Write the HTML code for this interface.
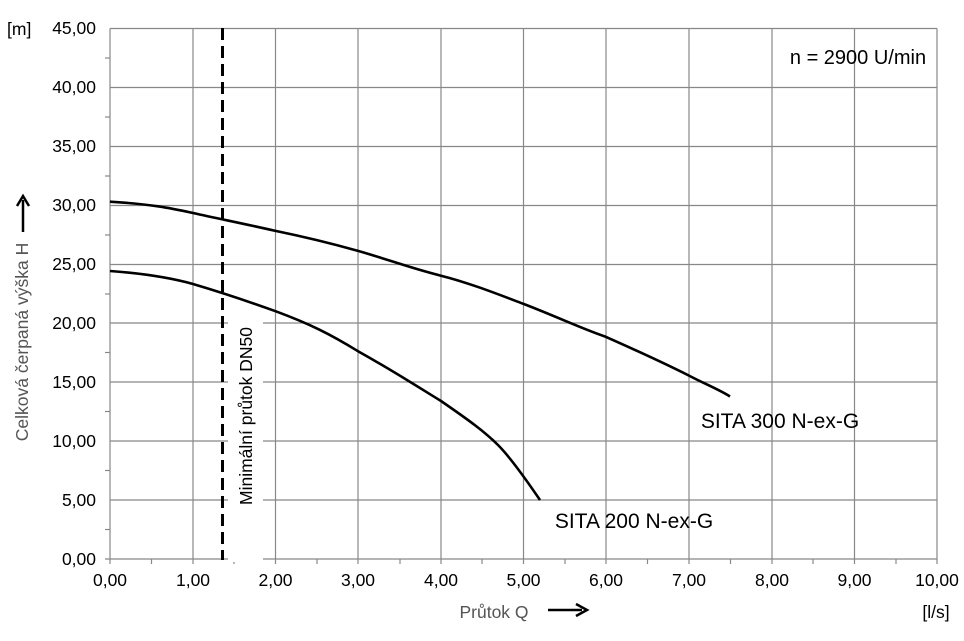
<!DOCTYPE html>
<html><head><meta charset="utf-8"><style>
html,body{margin:0;padding:0;background:#fff}
svg{display:block}
text{font-family:"Liberation Sans",sans-serif}
</style></head><body>
<svg width="964" height="641" viewBox="0 0 964 641" xmlns="http://www.w3.org/2000/svg">
<g stroke="#888" stroke-width="1.2" fill="none">
<line x1="110" y1="28.5" x2="937" y2="28.5"/>
<line x1="110" y1="87.5" x2="937" y2="87.5"/>
<line x1="110" y1="146.5" x2="937" y2="146.5"/>
<line x1="110" y1="205.5" x2="937" y2="205.5"/>
<line x1="110" y1="264.5" x2="937" y2="264.5"/>
<line x1="110" y1="323" x2="937" y2="323"/>
<line x1="110" y1="382" x2="937" y2="382"/>
<line x1="110" y1="441" x2="937" y2="441"/>
<line x1="110" y1="500" x2="937" y2="500"/>
<line x1="105" y1="559" x2="937" y2="559"/>
<line x1="110" y1="28.5" x2="110" y2="564"/>
<line x1="193" y1="28.5" x2="193" y2="564"/>
<line x1="275.5" y1="28.5" x2="275.5" y2="564"/>
<line x1="358" y1="28.5" x2="358" y2="564"/>
<line x1="441" y1="28.5" x2="441" y2="564"/>
<line x1="523.5" y1="28.5" x2="523.5" y2="564"/>
<line x1="606" y1="28.5" x2="606" y2="564"/>
<line x1="689" y1="28.5" x2="689" y2="564"/>
<line x1="772" y1="28.5" x2="772" y2="564"/>
<line x1="854.5" y1="28.5" x2="854.5" y2="564"/>
<line x1="937" y1="28.5" x2="937" y2="564"/>
<line x1="105" y1="58" x2="110" y2="58"/><line x1="105" y1="117" x2="110" y2="117"/>
<line x1="105" y1="176" x2="110" y2="176"/><line x1="105" y1="235" x2="110" y2="235"/>
<line x1="105" y1="294" x2="110" y2="294"/><line x1="105" y1="352.5" x2="110" y2="352.5"/>
<line x1="105" y1="411.5" x2="110" y2="411.5"/><line x1="105" y1="470.5" x2="110" y2="470.5"/>
<line x1="105" y1="529.5" x2="110" y2="529.5"/>
<line x1="151.5" y1="559" x2="151.5" y2="564"/><line x1="234" y1="559" x2="234" y2="564"/>
<line x1="317" y1="559" x2="317" y2="564"/><line x1="400" y1="559" x2="400" y2="564"/>
<line x1="482" y1="559" x2="482" y2="564"/><line x1="565" y1="559" x2="565" y2="564"/>
<line x1="647.5" y1="559" x2="647.5" y2="564"/><line x1="730.5" y1="559" x2="730.5" y2="564"/>
<line x1="813" y1="559" x2="813" y2="564"/><line x1="896" y1="559" x2="896" y2="564"/>
</g>
<rect x="228" y="318" width="35" height="244" fill="#fff"/>
<line x1="222.5" y1="28" x2="222.5" y2="560" stroke="#000" stroke-width="3" stroke-dasharray="12,6"/>
<path d="M110,201.7 C150,204 170,208 193,213 C220,219 250,225 275.5,230.9 C310,238 330,243 358,250.9 C390,260 410,268 441,275.7 C470,283 500,295 523.5,303.9 C560,318 580,328 606,336.9 C640,352 670,366 689,375.6 C705,384 720,390 730,396.5" stroke="#000" stroke-width="2.6" fill="none"/>
<path d="M110,271 C150,274 175,279 193,284 C220,292 250,302 275.5,311.2 C310,324 330,334 358,351.2 C390,369 415,385 441,401 C470,421 485,432 498,445 C510,457 525,478 540,500" stroke="#000" stroke-width="2.6" fill="none"/>
<g font-size="17.5" fill="#000" text-anchor="end">
<text x="96" y="34">45,00</text><text x="96" y="93">40,00</text><text x="96" y="152">35,00</text>
<text x="96" y="211">30,00</text><text x="96" y="270">25,00</text><text x="96" y="329">20,00</text>
<text x="96" y="388">15,00</text><text x="96" y="447">10,00</text><text x="96" y="506">5,00</text>
<text x="96" y="565">0,00</text>
</g>
<text x="7" y="35" font-size="17.5">[m]</text>
<g font-size="17.5" fill="#000" text-anchor="middle">
<text x="110" y="586">0,00</text><text x="193" y="586">1,00</text><text x="275.5" y="586">2,00</text>
<text x="358" y="586">3,00</text><text x="441" y="586">4,00</text><text x="523.5" y="586">5,00</text>
<text x="606" y="586">6,00</text><text x="689" y="586">7,00</text><text x="772" y="586">8,00</text>
<text x="854.5" y="586">9,00</text><text x="937" y="586">10,00</text>
</g>
<text x="936" y="618" font-size="17.5" text-anchor="middle">[l/s]</text>
<text x="494" y="618" font-size="17.5" fill="#555" text-anchor="middle">Průtok Q</text>
<line x1="548" y1="610" x2="582" y2="610" stroke="#000" stroke-width="2.5"/>
<path d="M576,604 L587,610 L576,616" stroke="#000" stroke-width="2.5" fill="none"/>
<text transform="translate(28,342) rotate(-90)" font-size="17.5" fill="#555" text-anchor="middle">Celková čerpaná výška H</text>
<line x1="23" y1="232" x2="23" y2="200" stroke="#000" stroke-width="2.5"/>
<path d="M17,206 L23,196 L29,206" stroke="#000" stroke-width="2.5" fill="none"/>
<text transform="translate(252,416) rotate(-90)" font-size="17.5" fill="#000" text-anchor="middle">Minimální průtok DN50</text>
<text x="858" y="64" font-size="20" text-anchor="middle">n = 2900 U/min</text>
<text x="780" y="428" font-size="21" text-anchor="middle">SITA 300 N-ex-G</text>
<text x="634" y="528" font-size="21" text-anchor="middle">SITA 200 N-ex-G</text>
</svg>
</body></html>
